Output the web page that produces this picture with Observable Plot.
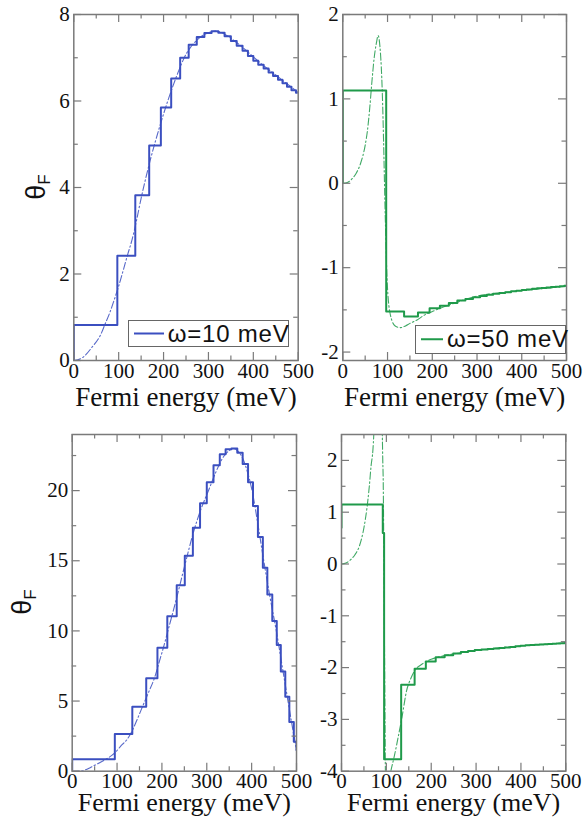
<!DOCTYPE html>
<html><head><meta charset="utf-8">
<script src="https://cdn.jsdelivr.net/npm/d3@7"></script>
<script src="https://cdn.jsdelivr.net/npm/@observablehq/plot@0.6"></script>
<style>
body{margin:0;background:#fff;}
#wrap{position:relative;width:585px;height:823px;overflow:hidden;background:#fff;}
.panel{position:absolute;}
.panel svg{overflow:visible;}
.ylab{position:absolute;font-family:"Liberation Sans",Arial,sans-serif;font-size:27px;color:#111;white-space:nowrap;transform:translate(-50%,-50%) rotate(-90deg);line-height:1;}
.ylab sub{font-size:17px;vertical-align:-5px;}
.legend{position:absolute;box-sizing:border-box;border:1.5px solid #666;background:#fff;font-family:"Liberation Sans",Arial,sans-serif;font-size:24px;letter-spacing:0.8px;color:#111;white-space:nowrap;}
.legend svg{position:absolute;left:0;top:0;}
.legend span{position:absolute;top:50%;transform:translateY(-50%);line-height:1;}
</style></head><body><div id="wrap"></div>
<script>
// ---------- data ----------
const energyTicks = [0, 100, 200, 300, 400, 500];
const energyMinor = [50, 150, 250, 350, 450];

// top-left, omega = 10 meV
const stepE_a = [0, 0, 97, 137, 168, 194, 217, 237, 256, 274, 291, 307, 322, 336, 350, 363, 376, 388, 400, 411, 423, 434, 444, 455, 465, 475, 485, 495, 500];
const stepV_a = [0, 0.82, 2.42, 3.82, 4.97, 5.85, 6.52, 7.0, 7.3, 7.48, 7.57, 7.61, 7.58, 7.5, 7.39, 7.28, 7.16, 7.04, 6.93, 6.84, 6.75, 6.66, 6.58, 6.49, 6.41, 6.33, 6.25, 6.19, 6.19];
const smE_a = [0, 20, 40, 60, 70, 80, 90, 100, 110, 120, 130, 140, 150, 160, 170, 180, 190, 200, 210, 220, 230, 240, 250, 260, 270, 280, 290, 300, 315, 330, 350, 375, 400, 425, 450, 475, 500];
const smV_a = [0, 0.07, 0.3, 0.6, 0.85, 1.1, 1.4, 1.72, 2.08, 2.45, 2.8, 3.25, 3.75, 4.2, 4.62, 5.0, 5.36, 5.7, 6.02, 6.32, 6.6, 6.86, 7.08, 7.24, 7.36, 7.46, 7.53, 7.58, 7.62, 7.58, 7.45, 7.25, 7.02, 6.8, 6.6, 6.4, 6.2];
const ticksY_a = [0, 2, 4, 6, 8];
const minorY_a = [1, 3, 5, 7];

// top-right, omega = 50 meV
const stepE_b = [0, 0, 97, 137, 168, 194, 217, 237, 256, 274, 291, 307, 322, 336, 350, 363, 376, 388, 400, 411, 423, 434, 444, 455, 465, 475, 485, 495, 500];
const stepV_b = [0, 1.1, -1.52, -1.58, -1.53, -1.48, -1.45, -1.42, -1.39, -1.37, -1.35, -1.335, -1.32, -1.31, -1.3, -1.29, -1.28, -1.272, -1.265, -1.258, -1.25, -1.245, -1.24, -1.235, -1.23, -1.225, -1.22, -1.215, -1.215];
const smE_b = [0, 10, 20, 30, 40, 50, 55, 60, 65, 70, 75, 79, 83, 86, 88, 90, 92, 94, 96, 98, 100, 103, 106, 110, 115, 120, 129, 140, 150, 166, 180, 200, 218, 250, 293, 350, 400, 442, 500];
const smV_b = [0, 0.01, 0.05, 0.12, 0.24, 0.45, 0.62, 0.88, 1.2, 1.48, 1.66, 1.75, 1.62, 1.38, 1.12, 0.75, 0.3, -0.2, -0.62, -1.0, -1.25, -1.45, -1.55, -1.63, -1.68, -1.7, -1.71, -1.69, -1.66, -1.62, -1.57, -1.52, -1.48, -1.42, -1.345, -1.3, -1.27, -1.25, -1.22];
const ticksY_b = [-2, -1, 0, 1, 2];
const minorY_b = [-1.5, -0.5, 0.5, 1.5];

// bottom-left
const stepE_c = [0, 0, 95, 134, 165, 190, 212, 233, 251, 269, 285, 300, 315, 329, 342, 355, 368, 380, 392, 403, 414, 425, 435, 446, 456, 465, 475, 484, 494, 500];
const stepV_c = [0, 0.85, 2.65, 4.6, 6.62, 8.8, 11.05, 13.25, 15.35, 17.35, 19.1, 20.6, 21.8, 22.6, 22.95, 23.0, 22.7, 21.9, 20.6, 18.9, 16.7, 14.5, 12.6, 10.7, 9.0, 7.1, 5.3, 3.5, 2.1, 1.5];
const smE_c = [0, 20, 40, 50, 75, 95, 110, 122, 130, 145, 156, 170, 184, 195, 205, 215, 230, 252, 270, 285, 305, 320, 335, 350, 360, 370, 380, 390, 401, 414, 427, 441, 455, 468, 481, 490, 500];
const smV_c = [0, 0.02, 0.25, 0.42, 0.85, 1.3, 1.85, 2.25, 2.65, 3.7, 4.55, 5.6, 6.7, 7.9, 9.0, 10.2, 12.0, 14.8, 17.0, 18.5, 20.1, 21.3, 22.3, 22.85, 23.0, 22.8, 22.3, 21.4, 20.0, 17.6, 15.0, 12.4, 10.0, 7.5, 5.0, 3.3, 1.5];
const ticksY_c = [0, 5, 10, 15, 20];
const minorY_c = [2.5, 7.5, 12.5, 17.5, 22.5];

// bottom-right
const stepE_d = [0, 0, 92, 95, 133, 163, 188, 210, 230, 249, 266, 282, 297, 312, 326, 339, 352, 364, 376, 388, 399, 410, 420, 431, 441, 451, 460, 470, 479, 488, 497, 500];
const stepV_d = [0.7, 1.15, 0.6, -3.77, -2.33, -2.02, -1.88, -1.8, -1.76, -1.73, -1.7, -1.68, -1.66, -1.65, -1.64, -1.63, -1.62, -1.61, -1.6, -1.59, -1.58, -1.57, -1.565, -1.56, -1.555, -1.55, -1.545, -1.54, -1.535, -1.53, -1.525, -1.52];
const smE_d = [0, 10, 20, 30, 40, 50, 57, 62, 66, 70, 72, 74, 76, 89, 90, 91, 92, 93, 94, 95, 96, 97, 98, 100, 104, 110, 117, 125, 135, 145, 155, 163, 180, 200, 214, 240, 270, 300, 350, 400, 450, 500];
const smV_d = [0, 0.02, 0.08, 0.18, 0.35, 0.7, 1.1, 1.5, 1.9, 2.2, 2.5, 2.9, 3.5, 3.5, 3.0, 2.5, 2.0, 1.6, 0.6, -0.6, -1.8, -3.0, -4.1, -4.6, -4.3, -4.0, -3.74, -3.4, -2.95, -2.45, -2.2, -2.06, -1.93, -1.84, -1.8, -1.75, -1.71, -1.67, -1.62, -1.58, -1.55, -1.52];
const ticksY_d = [-4, -3, -2, -1, 0, 1, 2];
const minorY_d = [-3.5, -2.5, -1.5, -0.5, 0.5, 1.5];

const xTitle = "Fermi energy (meV)";
const legendA = "ω=10 meV";
const legendB = "ω=50 meV";
const blue = "#3b4fc0";
const green = "#1f9a4a";
const frameColor = "#7a7a7a";
const serif = "Liberation Serif";

const rows = (E, V) => E.map((e, i) => ({e, v: V[i]}));

const wrap = document.getElementById("wrap");

function panel(cfg) {
  const W = cfg.width - cfg.mL - cfg.mR;
  const H = cfg.height - cfg.mT - cfg.mB;
  const maj = 8, mnr = 4.5;
  const id = d => d;
  const svg = Plot.plot({
    width: cfg.width, height: cfg.height,
    marginLeft: cfg.mL, marginRight: cfg.mR, marginTop: cfg.mT, marginBottom: cfg.mB,
    x: {domain: [0, 500], axis: null},
    y: {domain: cfg.yDomain, axis: null},
    style: {fontFamily: serif, overflow: "visible", background: "transparent", color: "#111"},
    marks: [
      Plot.line(rows(cfg.smE, cfg.smV), {x: "e", y: "v", stroke: cfg.color, strokeWidth: 1.1, strokeOpacity: 0.85, strokeDasharray: "7,2.5,1.5,2.5", curve: "monotone-x", clip: true}),
      Plot.line(rows(cfg.stepE, cfg.stepV), {x: "e", y: "v", stroke: cfg.color, strokeWidth: 2, curve: "step-after", clip: true}),
      Plot.frame({stroke: frameColor, strokeWidth: 1.5}),
      Plot.tickX(energyTicks, {x: id, stroke: frameColor, strokeWidth: 1.2, insetTop: H - maj}),
      Plot.tickX(energyTicks, {x: id, stroke: frameColor, strokeWidth: 1.2, insetBottom: H - maj}),
      Plot.tickX(energyMinor, {x: id, stroke: frameColor, strokeWidth: 1.2, insetTop: H - mnr}),
      Plot.tickX(energyMinor, {x: id, stroke: frameColor, strokeWidth: 1.2, insetBottom: H - mnr}),
      Plot.tickY(cfg.yTicks, {y: id, stroke: frameColor, strokeWidth: 1.2, insetRight: W - maj}),
      Plot.tickY(cfg.yTicks, {y: id, stroke: frameColor, strokeWidth: 1.2, insetLeft: W - maj}),
      Plot.tickY(cfg.yMinor, {y: id, stroke: frameColor, strokeWidth: 1.2, insetRight: W - mnr}),
      Plot.tickY(cfg.yMinor, {y: id, stroke: frameColor, strokeWidth: 1.2, insetLeft: W - mnr}),
      Plot.text(energyTicks, {x: id, text: d => String(d), frameAnchor: "bottom", lineAnchor: "top", dy: cfg.xPad, fontSize: 21, fontFamily: serif, fill: "#111"}),
      Plot.text(cfg.yTicks, {y: id, text: d => String(d), frameAnchor: "left", textAnchor: "end", dx: -4, fontSize: 21, fontFamily: serif, fill: "#111"}),
      Plot.text([xTitle], {text: id, frameAnchor: "bottom", lineAnchor: "bottom", dy: cfg.titleDy, fontSize: cfg.titleSize, fontFamily: serif, fill: "#111"})
    ]
  });
  const div = document.createElement("div");
  div.className = "panel";
  div.style.left = cfg.left + "px";
  div.style.top = cfg.top + "px";
  div.appendChild(svg);
  wrap.appendChild(div);
}

panel({left: 0, top: 0, width: 300, height: 410, mL: 73.3, mR: 2.3, mT: 14, mB: 50,
  yDomain: [0, 8], yTicks: ticksY_a, yMinor: minorY_a, stepE: stepE_a, stepV: stepV_a, smE: smE_a, smV: smV_a, color: blue, titleDy: 45, titleSize: 27, xPad: 3});
panel({left: 290, top: 0, width: 295, height: 410, mL: 52.3, mR: 19, mT: 14, mB: 50,
  yDomain: [-2.1, 2], yTicks: ticksY_b, yMinor: minorY_b, stepE: stepE_b, stepV: stepV_b, smE: smE_b, smV: smV_b, color: green, titleDy: 45, titleSize: 27, xPad: 3});
panel({left: 0, top: 410, width: 300, height: 413, mL: 71.7, mR: 4, mT: 24, mB: 52.3,
  yDomain: [0, 24], yTicks: ticksY_c, yMinor: minorY_c, stepE: stepE_c, stepV: stepV_c, smE: smE_c, smV: smV_c, color: blue, titleDy: 40, titleSize: 26, xPad: 1.5});
panel({left: 290, top: 410, width: 295, height: 413, mL: 51, mR: 19.7, mT: 24, mB: 52.3,
  yDomain: [-4, 2.5], yTicks: ticksY_d, yMinor: minorY_d, stepE: stepE_d, stepV: stepV_d, smE: smE_d, smV: smV_d, color: green, titleDy: 40, titleSize: 26, xPad: 1.5});

// y-axis labels
function ylab(x, y) {
  const d = document.createElement("div");
  d.className = "ylab";
  d.style.left = x + "px";
  d.style.top = y + "px";
  d.innerHTML = "θ<sub>F</sub>";
  wrap.appendChild(d);
}
ylab(38, 187);
ylab(24, 602);

// legends
function legend(left, top, w, h, x1, x2, tx, color, label) {
  const d = document.createElement("div");
  d.className = "legend";
  d.style.left = left + "px"; d.style.top = top + "px";
  d.style.width = w + "px"; d.style.height = h + "px";
  const ns = "http://www.w3.org/2000/svg";
  const s = document.createElementNS(ns, "svg");
  s.setAttribute("width", w); s.setAttribute("height", h);
  const l = document.createElementNS(ns, "line");
  l.setAttribute("x1", x1); l.setAttribute("x2", x2);
  l.setAttribute("y1", h / 2 - 1); l.setAttribute("y2", h / 2 - 1);
  l.setAttribute("stroke", color); l.setAttribute("stroke-width", 2);
  s.appendChild(l);
  d.appendChild(s);
  const t = document.createElement("span");
  t.style.left = tx + "px";
  t.textContent = label;
  d.appendChild(t);
  wrap.appendChild(d);
}
legend(127.7, 320, 161.6, 27, 5, 35, 39, blue, legendA);
legend(415, 325, 151, 28.5, 5, 27, 31, green, legendB);
</script>
</body></html>
